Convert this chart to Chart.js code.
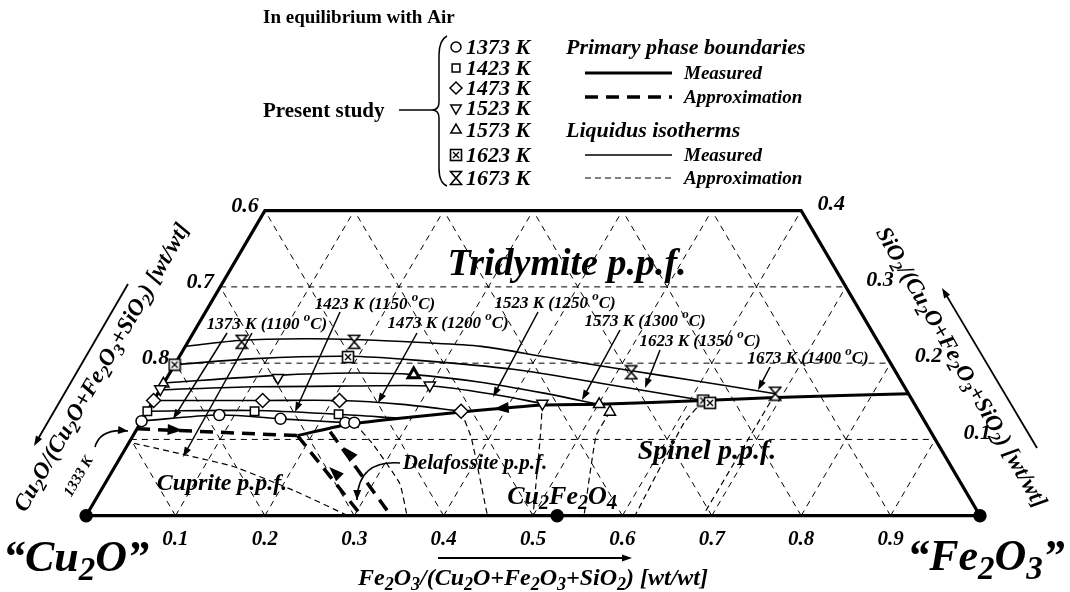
<!DOCTYPE html>
<html>
<head>
<meta charset="utf-8">
<title>Cu2O-Fe2O3-SiO2 in air</title>
<script src="https://cdn.jsdelivr.net/npm/chart.js@4.4.1/dist/chart.umd.min.js"></script>
<style>
  body { margin: 0; background: #fff; }
  #box { width: 1070px; height: 592px; }
</style>
</head>
<body>
<div id="box"><canvas id="diagram"></canvas></div>
<script>
// Compositions are [Fe2O3, SiO2] mass fractions, Cu2O is the rest
const gridValues = [0.1, 0.2, 0.3, 0.4, 0.5, 0.6, 0.7, 0.8, 0.9]
const bottomTicks = ['0.1', '0.2', '0.3', '0.4', '0.5', '0.6', '0.7', '0.8', '0.9']
const leftTicks = ['0.6', '0.7', '0.8']          // Cu2O on the left edge
const leftTickSiO2 = [0.4, 0.3, 0.2]
const rightTicks = ['0.4', '0.3', '0.2', '0.1']  // SiO2 on the right edge
const rightTickSiO2 = [0.4, 0.3, 0.2, 0.1]
const frame = [[0, 0], [1, 0], [0.6, 0.4], [0, 0.4], [0, 0]]
const compounds = [[0, 0], [1, 0], [0.527, 0]]   // Cu2O, Fe2O3, Cu2Fe2O4

const temperatures = ['1373 K', '1423 K', '1473 K', '1523 K', '1573 K', '1623 K', '1673 K']
const celsius = ['1100', '1150', '1200', '1250', '1300', '1350', '1400']

// experimental points (present study)
const pts1373 = [[0.000, 0.124], [0.083, 0.132], [0.154, 0.127], [0.229, 0.122], [0.239, 0.122]]
const pts1423 = [[0.000, 0.137], [0.120, 0.137], [0.216, 0.133]]
const pts1473 = [[0.000, 0.151], [0.122, 0.151], [0.208, 0.151], [0.351, 0.137]]
const pts1523 = [[0.000, 0.166], [0.124, 0.181], [0.299, 0.171], [0.437, 0.147]]
const pts1573 = [[0.000, 0.173], [0.274, 0.185], [0.501, 0.146], [0.518, 0.136]]
const pts1623 = [[0.000, 0.198], [0.189, 0.208], [0.615, 0.151], [0.624, 0.148]]
const pts1673 = [[0.060, 0.228], [0.186, 0.228], [0.516, 0.188], [0.691, 0.160]]

// liquidus isotherms, measured (tridymite field)
const iso1373 = [[0.000, 0.124], [0.083, 0.132], [0.154, 0.127], [0.229, 0.122], [0.240, 0.121]]
const iso1423 = [[0.000, 0.137], [0.120, 0.138], [0.216, 0.133], [0.284, 0.128]]
const iso1473 = [[0.000, 0.151], [0.122, 0.151], [0.208, 0.151], [0.281, 0.146], [0.351, 0.137]]
const iso1523 = [[0.000, 0.165], [0.105, 0.169], [0.214, 0.170], [0.300, 0.170], [0.377, 0.159], [0.437, 0.147]]
const iso1573 = [[0.000, 0.174], [0.122, 0.184], [0.206, 0.187], [0.274, 0.185], [0.354, 0.175], [0.430, 0.161], [0.501, 0.146]]
const iso1623 = [[0.000, 0.198], [0.086, 0.206], [0.189, 0.209], [0.266, 0.204], [0.382, 0.192], [0.487, 0.174], [0.615, 0.151]]
const iso1673 = [[0.000, 0.222], [0.059, 0.230], [0.128, 0.232], [0.185, 0.231], [0.262, 0.227], [0.331, 0.222],
  [0.411, 0.208], [0.515, 0.190], [0.587, 0.178], [0.691, 0.160]]

// liquidus isotherms, approximation (cuprite, delafossite, spinel fields)
const approx1333 = [[0.006, 0.095], [0.131, 0.065], [0.216, 0.033], [0.293, 0.000]]
const approx1373 = [[0.240, 0.121], [0.275, 0.093], [0.330, 0.042], [0.359, 0.000]]
const approx1473 = [[0.351, 0.137], [0.380, 0.102], [0.449, 0.000]]
const approx1523 = [[0.437, 0.147], [0.457, 0.102], [0.500, 0.000]]
const approx1573 = [[0.518, 0.136], [0.518, 0.105], [0.557, 0.000]]
const approx1623 = [[0.615, 0.151], [0.608, 0.122], [0.614, 0.000]]
const approx1673 = [[0.691, 0.160], [0.690, 0.000]]

// primary phase boundaries
const boundaryMeasured = [[0.184, 0.105], [0.230, 0.119], [0.290, 0.128], [0.352, 0.136], [0.439, 0.145],
  [0.501, 0.146], [0.615, 0.151], [0.694, 0.155], [0.840, 0.160]]
const boundaryCuprite = [[0.000, 0.114], [0.184, 0.105]]
const boundaryDelafA = [[0.184, 0.105], [0.308, 0.000]]
const boundaryDelafB = [[0.218, 0.110], [0.341, 0.000]]
// arrow tips on the boundaries: [tip, point it heads to]
const flowArrows = [
  [[0.386, 0.140], [0.352, 0.136]],
  [[0.052, 0.112], [0.184, 0.105]],
  [[0.240, 0.064], [0.184, 0.105]],
  [[0.243, 0.090], [0.218, 0.110]]
]

const SQ3 = Math.sqrt(3) / 2
const FONT = '"Liberation Serif", "Times New Roman", serif'

function tern(p) { return { x: p[0] + p[1] / 2, y: p[1] * SQ3 } }

// grid lines of the ternary (only inside the trapezoid, SiO2 <= 0.4)
function gridLines() {
  let lines = []
  gridValues.forEach(v => {
    if (v < 0.4) lines.push([[0, v], [1 - v, v]])
    lines.push([[v, 0], [v, Math.min(0.4, 1 - v)]])
    let top = Math.min(0.4, v)
    lines.push([[v, 0], [v - top, top]])
  })
  return lines
}

// custom point symbols
function hourglass() {
  const c = document.createElement('canvas')
  c.width = 14; c.height = 16
  const g = c.getContext('2d')
  g.fillStyle = '#fff'; g.strokeStyle = '#000'; g.lineWidth = 1.6
  g.beginPath(); g.moveTo(1.5, 1.5); g.lineTo(12.5, 1.5); g.lineTo(7, 8); g.closePath(); g.fill(); g.stroke()
  g.beginPath(); g.moveTo(1.5, 14.5); g.lineTo(12.5, 14.5); g.lineTo(7, 8); g.closePath(); g.fill(); g.stroke()
  return c
}
function boxCross() {
  const c = document.createElement('canvas')
  c.width = 14; c.height = 14
  const g = c.getContext('2d')
  g.fillStyle = '#fff'; g.strokeStyle = '#000'; g.lineWidth = 1.6
  g.fillRect(1, 1, 12, 12); g.strokeRect(1.5, 1.5, 11, 11)
  g.lineWidth = 1.4
  g.beginPath(); g.moveTo(4, 4); g.lineTo(10, 10); g.moveTo(10, 4); g.lineTo(4, 10); g.stroke()
  return c
}
const hourglassImg = hourglass()
const boxCrossImg = boxCross()
const legendStyles = [
  { pointStyle: 'circle', radius: 5, rotation: 0 },
  { pointStyle: 'rect', radius: 5.5, rotation: 0 },
  { pointStyle: 'rectRot', radius: 6, rotation: 0 },
  { pointStyle: 'triangle', radius: 6, rotation: 180 },
  { pointStyle: 'triangle', radius: 6, rotation: 0 },
  { pointStyle: boxCrossImg, radius: 6, rotation: 0 },
  { pointStyle: hourglassImg, radius: 6, rotation: 0 }
]

function lineSet(pts, width, dash, tension) {
  return {
    data: pts.map(tern), showLine: true, fill: false,
    borderColor: '#000', borderWidth: width, borderDash: dash || [],
    borderJoinStyle: 'miter', tension: tension || 0,
    pointRadius: 0, pointHoverRadius: 0, order: 2
  }
}
function markSet(pts, style, radius, rotation, bw) {
  return {
    data: pts.map(tern), showLine: false,
    pointStyle: style, pointRadius: radius, pointRotation: rotation || 0,
    pointBackgroundColor: '#fff', pointBorderColor: '#000', pointBorderWidth: bw || 1.5,
    pointHoverRadius: radius, order: 0
  }
}

let datasets = []
gridLines().forEach(l => datasets.push(lineSet(l, 1, [6, 5])))
datasets.push(lineSet(frame, 3.2))
const isotherms = [iso1373, iso1423, iso1473, iso1523, iso1573, iso1623, iso1673]
isotherms.forEach(l => datasets.push(lineSet(l, 1.6, [], 0.3)))
const approxLines = [approx1333, approx1373, approx1473, approx1523, approx1573, approx1623, approx1673]
approxLines.forEach(l => datasets.push(lineSet(l, 1.2, [6, 4], 0.12)))
datasets.push(lineSet(boundaryMeasured, 3, [], 0.2))
;[boundaryCuprite, boundaryDelafA, boundaryDelafB].forEach(l => datasets.push(lineSet(l, 3.5, [13, 8])))

datasets.push(markSet(pts1373, 'circle', 5.5))
datasets.push(markSet(pts1423, 'rect', 6))
datasets.push(markSet(pts1473, 'rectRot', 7))
datasets.push(markSet(pts1523, 'triangle', 6.5, 180))
let d1573 = markSet(pts1573, 'triangle', 6.5)
d1573.pointBorderWidth = [1.5, 3, 1.5, 1.5]
datasets.push(d1573)
datasets.push(markSet(pts1623, boxCrossImg, 6))
datasets.push(markSet(pts1673, hourglassImg, 6))
let dots = markSet(compounds, 'circle', 6)
dots.pointBackgroundColor = '#000'
datasets.push(dots)

// text with _x subscripts and ^x superscripts, y is the middle of the text
function drawRich(ctx, str, x, y, size, style, align) {
  let parts = []
  for (let i = 0; i < str.length; i++) {
    let ch = str[i]
    if ((ch === '_' || ch === '^') && i + 1 < str.length) {
      parts.push({ t: str[i + 1], k: ch }); i++
    } else if (parts.length && parts[parts.length - 1].k === '') {
      parts[parts.length - 1].t += ch
    } else {
      parts.push({ t: ch, k: '' })
    }
  }
  const small = Math.round(size * 0.75)
  let w = 0
  parts.forEach(p => {
    ctx.font = `${style} ${p.k ? small : size}px ${FONT}`
    p.w = ctx.measureText(p.t).width
    w += p.w
  })
  let cx = align === 'left' ? x : align === 'right' ? x - w : x - w / 2
  ctx.textAlign = 'left'
  ctx.textBaseline = 'alphabetic'
  const base = y + size * 0.33
  parts.forEach(p => {
    ctx.font = `${style} ${p.k ? small : size}px ${FONT}`
    let dy = p.k === '_' ? size * 0.22 : p.k === '^' ? -size * 0.42 : 0
    ctx.fillText(p.t, cx, base + dy)
    cx += p.w
  })
}
function head(ctx, x, y, ang, len, half) {
  ctx.beginPath()
  ctx.moveTo(x, y)
  ctx.lineTo(x - len * Math.cos(ang) + half * Math.sin(ang), y - len * Math.sin(ang) - half * Math.cos(ang))
  ctx.lineTo(x - len * Math.cos(ang) - half * Math.sin(ang), y - len * Math.sin(ang) + half * Math.cos(ang))
  ctx.closePath()
  ctx.fill()
}
function arrow(ctx, x1, y1, x2, y2, lw) {
  const ang = Math.atan2(y2 - y1, x2 - x1)
  ctx.lineWidth = lw || 1.5
  ctx.setLineDash([])
  ctx.beginPath()
  ctx.moveTo(x1, y1)
  ctx.lineTo(x2 - 6 * Math.cos(ang), y2 - 6 * Math.sin(ang))
  ctx.stroke()
  head(ctx, x2, y2, ang, 10, 3.5)
}
function curvedArrow(ctx, x1, y1, cx, cy, x2, y2) {
  ctx.lineWidth = 1.6
  ctx.setLineDash([])
  ctx.beginPath()
  ctx.moveTo(x1, y1)
  ctx.quadraticCurveTo(cx, cy, x2, y2)
  ctx.stroke()
  head(ctx, x2, y2, Math.atan2(y2 - cy, x2 - cx), 10, 4)
}

const labelPlugin = {
  id: 'labels',
  afterDatasetsDraw(chart) {
    const ctx = chart.ctx
    const sx = chart.scales.x, sy = chart.scales.y
    const pix = p => [sx.getPixelForValue(p[0] + p[1] / 2), sy.getPixelForValue(p[1] * SQ3)]
    ctx.save()
    ctx.fillStyle = '#000'
    ctx.strokeStyle = '#000'

    // arrowheads on the phase boundaries
    flowArrows.forEach(a => {
      const t = pix(a[0]), to = pix(a[1])
      head(ctx, t[0], t[1], Math.atan2(to[1] - t[1], to[0] - t[0]), 15, 5.5)
    })

    // tick labels
    bottomTicks.forEach((t, i) => {
      const p = pix([gridValues[i], 0])
      drawRich(ctx, t, p[0], p[1] + 22, 21, 'italic bold', 'center')
    })
    leftTicks.forEach((t, i) => {
      const p = pix([0, leftTickSiO2[i]])
      drawRich(ctx, t, p[0] - 20, p[1] - 6, 22, 'italic bold', 'center')
    })
    rightTicks.forEach((t, i) => {
      const s = rightTickSiO2[i]
      const p = pix([1 - s, s])
      drawRich(ctx, t, p[0] + 30 + (0.4 - s) * 40, p[1] - 8, 22, 'italic bold', 'center')
    })

    // corner compounds and axis titles
    drawRich(ctx, '\u201cCu_2O\u201d', 76, 556, 44, 'italic bold', 'center')
    drawRich(ctx, '\u201cFe_2O_3\u201d', 986, 555, 44, 'italic bold', 'center')
    drawRich(ctx, 'Fe_2O_3/(Cu_2O+Fe_2O_3+SiO_2) [wt/wt]', 533, 577, 24, 'italic bold', 'center')
    arrow(ctx, 438, 558, 632, 558, 1.8)
    ctx.save(); ctx.translate(101, 367); ctx.rotate(-Math.PI / 3)
    drawRich(ctx, 'Cu_2O/(Cu_2O+Fe_2O_3+SiO_2) [wt/wt]', 0, 0, 23, 'italic bold', 'center')
    ctx.restore()
    arrow(ctx, 128, 284, 34, 446, 1.8)
    ctx.save(); ctx.translate(962, 367); ctx.rotate(Math.PI / 3)
    drawRich(ctx, 'SiO_2/(Cu_2O+Fe_2O_3+SiO_2) [wt/wt]', 0, 0, 23, 'italic bold', 'center')
    ctx.restore()
    arrow(ctx, 1037, 448, 942, 288, 1.8)

    // primary phase fields
    drawRich(ctx, 'Tridymite p.p.f.', 567, 262, 38, 'italic bold', 'center')
    drawRich(ctx, 'Spinel p.p.f.', 707, 450, 28, 'italic bold', 'center')
    drawRich(ctx, 'Cuprite p.p.f.', 222, 482, 24, 'italic bold', 'center')
    drawRich(ctx, 'Delafossite p.p.f.', 475, 462, 21, 'italic bold', 'center')
    curvedArrow(ctx, 400, 463, 358, 460, 357, 500)
    drawRich(ctx, 'Cu_2Fe_2O_4', 562, 495, 26, 'italic bold', 'center')
    ctx.save(); ctx.translate(78, 476); ctx.rotate(-Math.PI / 3)
    drawRich(ctx, '1333 K', 0, 0, 15, 'italic bold', 'center')
    ctx.restore()
    curvedArrow(ctx, 95, 447, 100, 428, 128, 431)

    // isotherm labels
    const isoLabelPos = [[267, 323], [375, 303], [448, 322], [555, 302], [645, 320], [700, 340], [808, 357]]
    const isoArrows = [
      [[227, 333, 173, 419], [252, 333, 183, 457]],
      [[340, 312, 295, 412]],
      [[417, 333, 378, 403]],
      [[538, 312, 493, 397]],
      [[620, 330, 582, 400]],
      [[660, 350, 645, 388]],
      [[770, 367, 758, 390]]
    ]
    temperatures.forEach((t, i) => {
      drawRich(ctx, `${t} (${celsius[i]} ^oC)`, isoLabelPos[i][0], isoLabelPos[i][1], 17, 'italic bold', 'center')
      isoArrows[i].forEach(a => arrow(ctx, a[0], a[1], a[2], a[3], 1.5))
    })

    // legend
    drawRich(ctx, 'In equilibrium with Air', 263, 17, 19, 'bold', 'left')
    drawRich(ctx, 'Present study', 263, 110, 21, 'bold', 'left')
    ctx.lineWidth = 1.5
    ctx.beginPath(); ctx.moveTo(399, 110); ctx.lineTo(432, 110); ctx.stroke()
    ctx.beginPath()
    ctx.moveTo(447, 36)
    ctx.quadraticCurveTo(439, 40, 439, 55)
    ctx.lineTo(439, 102)
    ctx.quadraticCurveTo(439, 110, 432, 110)
    ctx.quadraticCurveTo(439, 110, 439, 118)
    ctx.lineTo(439, 168)
    ctx.quadraticCurveTo(439, 183, 447, 186)
    ctx.stroke()
    const rowsY = [47, 68, 88, 108, 130, 155, 178]
    temperatures.forEach((t, i) => {
      const st = legendStyles[i]
      ctx.fillStyle = '#fff'; ctx.strokeStyle = '#000'; ctx.lineWidth = 1.5
      Chart.helpers.drawPoint(ctx, { pointStyle: st.pointStyle, radius: st.radius, rotation: st.rotation, borderWidth: 1.5 }, 456, rowsY[i])
      ctx.fillStyle = '#000'
      drawRich(ctx, t, 466, rowsY[i], 22, 'italic bold', 'left')
    })
    drawRich(ctx, 'Primary phase boundaries', 566, 47, 22, 'italic bold', 'left')
    drawRich(ctx, 'Liquidus isotherms', 566, 130, 22, 'italic bold', 'left')
    const legendLines = [[73, 3, []], [97, 3.5, [13, 8]], [155, 1.6, []], [178, 1.2, [6, 4]]]
    const legendNames = ['Measured', 'Approximation', 'Measured', 'Approximation']
    legendLines.forEach((l, i) => {
      ctx.lineWidth = l[1]
      ctx.setLineDash(l[2])
      ctx.beginPath(); ctx.moveTo(585, l[0]); ctx.lineTo(672, l[0]); ctx.stroke()
      ctx.setLineDash([])
      drawRich(ctx, legendNames[i], 684, l[0], 19, 'italic bold', 'left')
    })
    ctx.restore()
  }
}

new Chart(document.getElementById('diagram'), {
  type: 'scatter',
  data: { datasets: datasets },
  options: {
    responsive: true,
    maintainAspectRatio: false,
    animation: false,
    events: [],
    layout: { padding: 0 },
    plugins: { legend: { display: false }, tooltip: { enabled: false } },
    scales: {
      x: { type: 'linear', display: false, min: -78 / 910, max: 992 / 910 },
      y: { type: 'linear', display: false, min: -69 / 910, max: 523 / 910 }
    }
  },
  plugins: [labelPlugin]
})
</script>
</body>
</html>
